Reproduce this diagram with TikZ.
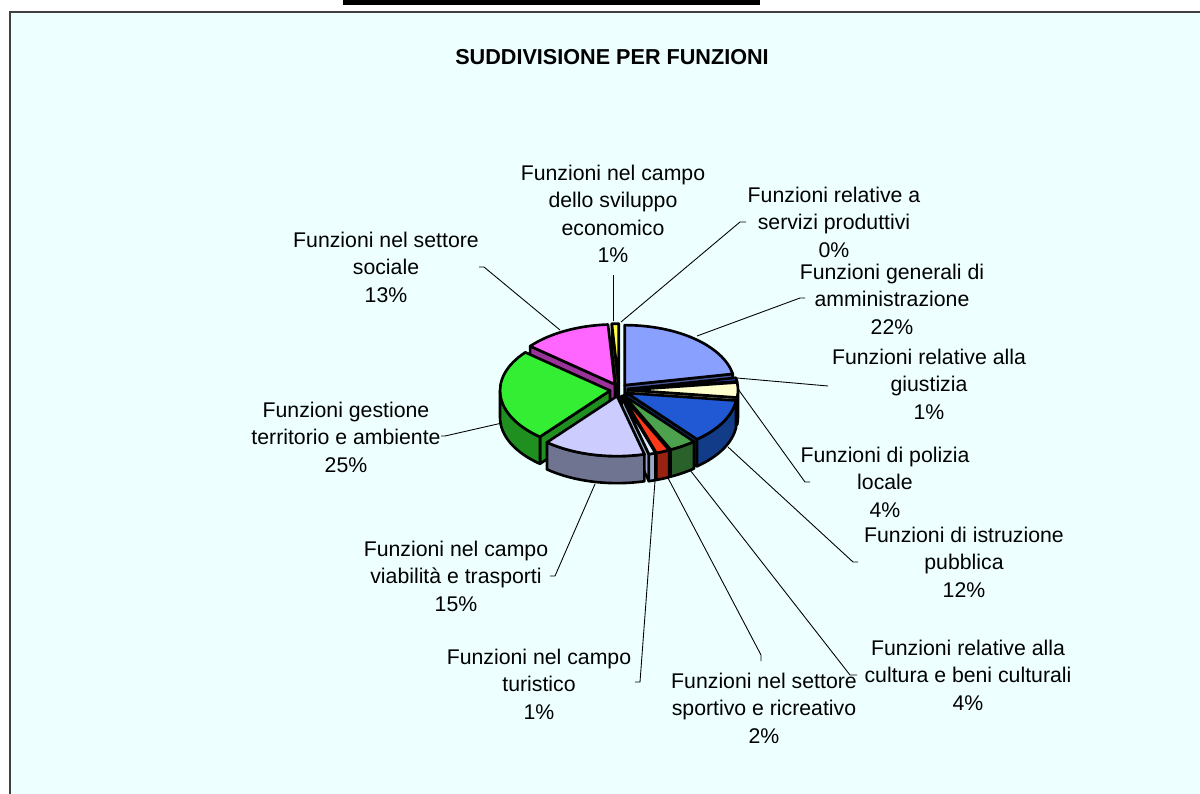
\documentclass[tikz,border=0pt]{standalone}
\usepackage{fontspec}
\setmainfont{Liberation Sans}
\usepackage{xcolor}
\usetikzlibrary{positioning}

\definecolor{chartbg}{HTML}{EEFFFF}
\definecolor{genTop}{HTML}{8AA0FF}   \definecolor{genSide}{HTML}{4A5899}
\definecolor{giuTop}{HTML}{2E4FB8}   \definecolor{giuSide}{HTML}{1A2D70}
\definecolor{polTop}{HTML}{FFFFCC}   \definecolor{polSide}{HTML}{99997A}
\definecolor{istrTop}{HTML}{2158D4}  \definecolor{istrSide}{HTML}{123C88}
\definecolor{cultTop}{HTML}{4DA34D}  \definecolor{cultSide}{HTML}{2A602A}
\definecolor{sportTop}{HTML}{FF3A1A} \definecolor{sportSide}{HTML}{992211}
\definecolor{turTop}{HTML}{D8EEFF}   \definecolor{turSide}{HTML}{9AAACA}
\definecolor{viabTop}{HTML}{CCCCFF}  \definecolor{viabSide}{HTML}{6F7591}
\definecolor{terrTop}{HTML}{33EE33}  \definecolor{terrSide}{HTML}{1F8F1F}
\definecolor{socTop}{HTML}{FF66FF}   \definecolor{socSide}{HTML}{993399}
\definecolor{svilTop}{HTML}{FFFF44}  \definecolor{svilSide}{HTML}{999933}

% pie geometry (pixel units)
\def\pcx{619}
\def\pcy{390}
\def\prx{110}
\def\pry{60}
\def\pdp{27}
\def\pex{9}
\def\pky{0.7}

% one exploded 3-D slice: start angle, end angle (clockwise from top), top colour, side colour
\newcommand{\drawslice}[4]{%
  \pgfmathsetmacro{\slm}{(#1+#2)/2}%
  \pgfmathsetmacro{\slx}{\pcx+\pex*sin(\slm)}%
  \pgfmathsetmacro{\sly}{\pcy-\pex*\pky*cos(\slm)}%
  \pgfmathtruncatemacro{\slw}{sin(#1)<-0.01}%
  \pgfmathtruncatemacro{\slv}{sin(#2)>0.01}%
  \ifnum\slw=1
    \filldraw[slice, fill=#4] (\slx,\sly) -- ++({\prx*sin(#1)},{-\pry*cos(#1)}) -- ++(0,\pdp) -- (\slx,{\sly+\pdp}) -- cycle;
  \fi
  \ifnum\slv=1
    \filldraw[slice, fill=#4] (\slx,\sly) -- ++({\prx*sin(#2)},{-\pry*cos(#2)}) -- ++(0,\pdp) -- (\slx,{\sly+\pdp}) -- cycle;
  \fi
  \pgfmathsetmacro{\sla}{max(#1,90)}%
  \pgfmathsetmacro{\slb}{min(#2,270)}%
  \ifdim\sla pt<\slb pt
    \filldraw[slice, fill=#4] ({\slx+\prx*sin(\sla)},{\sly-\pry*cos(\sla)})
      arc[start angle=\sla-90, end angle=\slb-90, x radius=\prx, y radius=\pry]
      -- ++(0,\pdp)
      arc[start angle=\slb-90, end angle=\sla-90, x radius=\prx, y radius=\pry] -- cycle;
  \fi
  \filldraw[slice, fill=#3] (\slx,\sly) -- ++({\prx*sin(#1)},{-\pry*cos(#1)})
    arc[start angle=#1-90, end angle=#2-90, x radius=\prx, y radius=\pry] -- cycle;
}

\begin{document}
\begin{tikzpicture}[
    x=0.02cm, y=-0.02cm,
    frame/.style={draw=black!75, line width=1.1pt, fill=chartbg},
    slice/.style={draw=black, line width=1.5pt, line join=round},
    leader/.style={draw=black, line width=0.5pt},
    lbl/.style={align=center, inner sep=0pt, font=\fontsize{12.1}{15.6}\selectfont},
    title/.style={inner sep=0pt, font=\fontsize{12.3}{14}\selectfont\bfseries}
]
    \useasboundingbox (0,0) rectangle (1200,794);
    \clip (0,0) rectangle (1200,794);

    % Frame
    \fill[white] (0,0) rectangle (1200,794);
    \fill[black] (343,0) rectangle (760,5);
    \draw[frame] (10,12) rectangle (1230,830);
    \node[title] (title) at (612,57) {SUDDIVISIONE PER FUNZIONI};

    % Slices, back to front
    \drawslice{356.4}{360}{svilTop}{svilSide}
    \drawslice{309.6}{356.4}{socTop}{socSide}
    \drawslice{0}{79.2}{genTop}{genSide}
    \drawslice{79.2}{82.8}{giuTop}{giuSide}
    \drawslice{82.8}{97.2}{polTop}{polSide}
    \drawslice{219.6}{309.6}{terrTop}{terrSide}
    \drawslice{97.2}{140.4}{istrTop}{istrSide}
    \drawslice{140.4}{154.8}{cultTop}{cultSide}
    \drawslice{154.8}{162}{sportTop}{sportSide}
    \drawslice{162}{165.6}{turTop}{turSide}
    \drawslice{165.6}{219.6}{viabTop}{viabSide}

    % Labels
    \node[lbl] (l-svil) at (613,214) {Funzioni nel campo\\dello sviluppo\\economico\\1\%};
    \node[lbl] (l-serv) at (834,222) {Funzioni relative a\\servizi produttivi\\0\%};
    \node[lbl] (l-soc) at (386,267) {Funzioni nel settore\\sociale\\13\%};
    \node[lbl] (l-gen) at (892,299) {Funzioni generali di\\amministrazione\\22\%};
    \node[lbl] (l-giu) at (929,384) {Funzioni relative alla\\giustizia\\1\%};
    \node[lbl] (l-terr) at (346,437) {Funzioni gestione\\territorio e ambiente\\25\%};
    \node[lbl] (l-pol) at (885,482) {Funzioni di polizia\\locale\\4\%};
    \node[lbl] (l-istr) at (964,562) {Funzioni di istruzione\\pubblica\\12\%};
    \node[lbl] (l-viab) at (456,576) {Funzioni nel campo\\viabilità e trasporti\\15\%};
    \node[lbl] (l-cult) at (968,675) {Funzioni relative alla\\cultura e beni culturali\\4\%};
    \node[lbl] (l-tur) at (539,684) {Funzioni nel campo\\turistico\\1\%};
    \node[lbl] (l-sport) at (764,708) {Funzioni nel settore\\sportivo e ricreativo\\2\%};

    % Leader lines
    \coordinate (svil-a) at (613,321);  \coordinate (svil-b) at (613,275);
    \coordinate (serv-a) at (621,322);  \coordinate (serv-b) at (740,222);  \coordinate (serv-c) at (746,222);
    \coordinate (soc-a) at (560,330);   \coordinate (soc-b) at (484,267);   \coordinate (soc-c) at (479,267);
    \coordinate (gen-a) at (697,336);   \coordinate (gen-b) at (800,298);   \coordinate (gen-c) at (805,298);
    \coordinate (giu-a) at (737,378);   \coordinate (giu-b) at (828,386);
    \coordinate (pol-a) at (738,389);   \coordinate (pol-b) at (805,482);   \coordinate (pol-c) at (810,482);
    \coordinate (istr-a) at (728,447);  \coordinate (istr-b) at (853,562);  \coordinate (istr-c) at (858,562);
    \coordinate (cult-a) at (690,470);  \coordinate (cult-b) at (850,675);  \coordinate (cult-c) at (857,675);
    \coordinate (sport-a) at (668,478); \coordinate (sport-b) at (761,655); \coordinate (sport-c) at (761,661);
    \coordinate (tur-a) at (655,481);   \coordinate (tur-b) at (640,682);   \coordinate (tur-c) at (635,682);
    \coordinate (viab-a) at (595,484);  \coordinate (viab-b) at (555,576);  \coordinate (viab-c) at (550,576);
    \coordinate (terr-a) at (502,423);  \coordinate (terr-b) at (445,436);  \coordinate (terr-c) at (441,436);

    \draw[leader] (svil-a) -- (svil-b);
    \draw[leader] (serv-a) -- (serv-b) -- (serv-c);
    \draw[leader] (soc-a) -- (soc-b) -- (soc-c);
    \draw[leader] (gen-a) -- (gen-b) -- (gen-c);
    \draw[leader] (giu-a) -- (giu-b);
    \draw[leader] (pol-a) -- (pol-b) -- (pol-c);
    \draw[leader] (istr-a) -- (istr-b) -- (istr-c);
    \draw[leader] (cult-a) -- (cult-b) -- (cult-c);
    \draw[leader] (sport-a) -- (sport-b) -- (sport-c);
    \draw[leader] (tur-a) -- (tur-b) -- (tur-c);
    \draw[leader] (viab-a) -- (viab-b) -- (viab-c);
    \draw[leader] (terr-a) -- (terr-b) -- (terr-c);
\end{tikzpicture}
\end{document}
